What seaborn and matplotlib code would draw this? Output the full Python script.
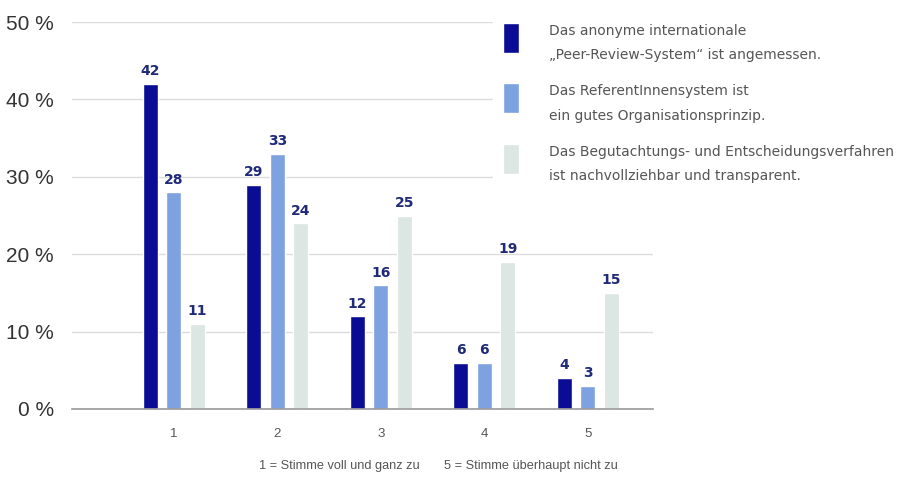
import matplotlib
matplotlib.use("Agg")
import matplotlib.pyplot as plt
import seaborn as sns
import pandas as pd

# Survey answers on a 1-5 scale, share of respondents in percent
categories = ["1", "2", "3", "4", "5"]
series_names = [
    "Das anonyme internationale\n\u201ePeer-Review-System\u201c ist angemessen.",
    "Das ReferentInnensystem ist\nein gutes Organisationsprinzip.",
    "Das Begutachtungs- und Entscheidungsverfahren\nist nachvollziehbar und transparent.",
]
peer_review = [42, 29, 12, 6, 4]
referenten = [28, 33, 16, 6, 3]
verfahren = [11, 24, 25, 19, 15]
y_ticks = [0, 10, 20, 30, 40, 50]
y_tick_labels = ["0 %", "10 %", "20 %", "30 %", "40 %", "50 %"]
footnote_left = "1 = Stimme voll und ganz zu"
footnote_right = "5 = Stimme \u00fcberhaupt nicht zu"

colors = ["#0b0c94", "#7ea1e0", "#dce6e3"]

df = pd.DataFrame({
    "Antwort": categories * 3,
    "Aussage": [series_names[0]] * 5 + [series_names[1]] * 5 + [series_names[2]] * 5,
    "Prozent": peer_review + referenten + verfahren,
})

sns.set_theme(style="white")
plt.rcParams["font.family"] = ["Liberation Sans", "DejaVu Sans"]

fig = plt.figure(figsize=(8.99, 4.78), dpi=100)
W, H = 899, 478
ax = fig.add_axes([72 / W, (H - 409) / H, (653 - 72) / W, (409 - 22) / H])

sns.barplot(data=df, x="Antwort", y="Prozent", hue="Aussage", order=categories,
            hue_order=series_names, palette=colors, width=0.68, gap=0.36,
            saturation=1, ax=ax, zorder=3)

ax.set_xlim(-0.985, 4.63)
ax.set_ylim(0, 50)
ax.set_yticks(y_ticks)
ax.set_yticklabels(y_tick_labels, fontsize=15, color="#333333")
ax.tick_params(axis="y", length=0, pad=13)
ax.tick_params(axis="x", length=0, pad=14, labelsize=9.5, labelcolor="#555555")
ax.set_xlabel("")
ax.set_ylabel("")
ax.grid(axis="y", color="#dcdcdc", linewidth=1, zorder=0)
for s in ["top", "right", "left"]:
    ax.spines[s].set_visible(False)
ax.spines["bottom"].set_color("#9a9a9a")
ax.spines["bottom"].set_linewidth(1.2)
ax.spines["bottom"].set_zorder(4)

for cont in ax.containers:
    ax.bar_label(cont, fmt="%d", padding=4, fontsize=10, fontweight="bold",
                 color="#1f2a78", family="DejaVu Sans")

handles, labels = ax.get_legend_handles_labels()
if ax.legend_:
    ax.legend_.remove()
leg = fig.legend(handles, labels, loc="upper left",
                 bbox_to_anchor=(486 / W, 1 - 7 / H), bbox_transform=fig.transFigure,
                 frameon=True, facecolor="white", edgecolor="white", framealpha=1,
                 prop={"family": "DejaVu Sans", "size": 10},
                 handlelength=1.15, handleheight=2.25, handletextpad=2.2,
                 labelspacing=1.6, borderpad=0.7, labelcolor="#555555")
for t in leg.get_texts():
    t.set_linespacing(1.95)
# tall colour swatches whose top sits just above the first text line
swatch_h = 21.6  # points
for p in leg.get_patches():
    centre = p.get_y() + p.get_height() / 2
    p.set_height(swatch_h)
    p.set_y(centre + 4.5 - swatch_h / 2)
leg.set_zorder(10)

fig.text(339 / W, 1 - 466 / H, footnote_left, ha="center", va="center",
         fontsize=9.2, color="#555555")
fig.text(531 / W, 1 - 466 / H, footnote_right, ha="center", va="center",
         fontsize=9.2, color="#555555")

fig.savefig("out.png", dpi=100, facecolor="white")
